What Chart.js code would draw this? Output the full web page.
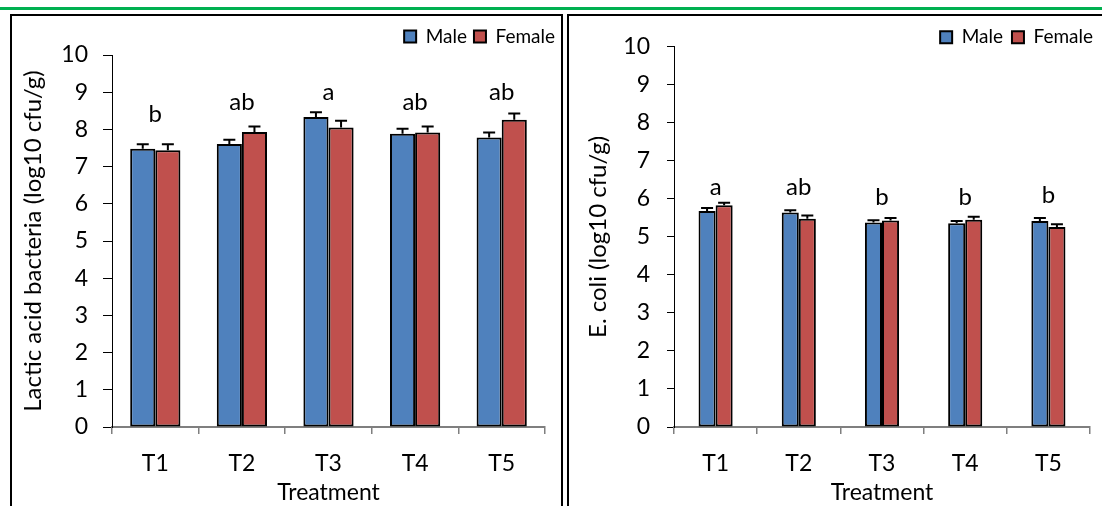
<!DOCTYPE html>
<html>
<head>
<meta charset="utf-8">
<script src="https://cdn.jsdelivr.net/npm/chart.js@4.4.0/dist/chart.umd.min.js"></script>
<style>
  html, body { margin: 0; padding: 0; background: #fff; }
  body { width: 1102px; height: 506px; position: relative; overflow: hidden; font-family: Lato, sans-serif; }
  .topline { position: absolute; left: 0; top: 7px; width: 1102px; height: 3px; background: #00b050; }
  .panel { position: absolute; top: 14px; height: 520px; border: 2px solid #000; box-sizing: border-box; }
  #panel-lab { left: 10px; width: 553px; }
  #panel-ecoli { left: 567px; width: 560px; }
  canvas { position: absolute; top: 16px; }
  #labChart { left: 12px; }
  #ecoliChart { left: 570px; }
</style>
</head>
<body>
<div class="topline"></div>
<div class="panel" id="panel-lab"></div>
<div class="panel" id="panel-ecoli"></div>
<canvas id="labChart" width="550" height="490"></canvas>
<canvas id="ecoliChart" width="532" height="490"></canvas>

<script>
// treatments on the x axis
const treatments = ['T1', 'T2', 'T3', 'T4', 'T5'];
const yTicks = [0, 1, 2, 3, 4, 5, 6, 7, 8, 9, 10];

// Lactic acid bacteria (log10 cfu/g)
const labMale = [7.48, 7.61, 8.33, 7.88, 7.78];
const labFemale = [7.44, 7.93, 8.05, 7.92, 8.26];
const labMaleErr = [0.12, 0.11, 0.13, 0.14, 0.14];
const labFemaleErr = [0.16, 0.15, 0.18, 0.16, 0.17];
const labLetters = ['b', 'ab', 'a', 'ab', 'ab'];
const labLetterLevel = [8.42, 8.74, 9.0, 8.74, 8.99];

// E. coli (log10 cfu/g)
const ecoliMale = [5.68, 5.64, 5.38, 5.36, 5.42];
const ecoliFemale = [5.83, 5.48, 5.43, 5.45, 5.26];
const ecoliMaleErr = [0.08, 0.06, 0.06, 0.06, 0.08];
const ecoliFemaleErr = [0.07, 0.08, 0.07, 0.08, 0.07];
const ecoliLetters = ['a', 'ab', 'b', 'b', 'b'];
const ecoliLetterLevel = [6.3, 6.3, 6.04, 6.04, 6.1];

const FONT = 'Lato';

// draws the +SE whisker on top of every bar
const errorBars = {
  id: 'errorBars',
  afterDatasetsDraw(chart) {
    const ctx = chart.ctx;
    const y = chart.scales.y;
    ctx.save();
    ctx.strokeStyle = '#000';
    ctx.lineWidth = 2;
    chart.data.datasets.forEach((ds, i) => {
      chart.getDatasetMeta(i).data.forEach((bar, j) => {
        const top = y.getPixelForValue(ds.data[j] + ds.err[j]);
        ctx.beginPath();
        ctx.moveTo(bar.x, bar.y);
        ctx.lineTo(bar.x, top);
        ctx.moveTo(bar.x - 6, top);
        ctx.lineTo(bar.x + 6, top);
        ctx.stroke();
      });
    });
    ctx.restore();
  }
};

// significance letters above each treatment group
const groupLetters = {
  id: 'groupLetters',
  afterDatasetsDraw(chart, args, opts) {
    if (!opts.text) return;
    const { ctx, scales: { x, y } } = chart;
    ctx.save();
    ctx.font = '24px ' + FONT;
    ctx.fillStyle = '#000';
    ctx.textAlign = 'center';
    ctx.textBaseline = 'middle';
    opts.text.forEach((t, i) => {
      ctx.fillText(t, x.getPixelForValue(i), y.getPixelForValue(opts.level[i]));
    });
    ctx.restore();
  }
};

function buildChart(id, cfg) {
  const ctx = document.getElementById(id).getContext('2d');
  return new Chart(ctx, {
    type: 'bar',
    data: {
      labels: treatments,
      datasets: [
        {
          label: 'Male',
          data: cfg.male,
          err: cfg.maleErr,
          backgroundColor: '#4f81bd',
          borderColor: '#000',
          borderWidth: 2,
          borderSkipped: false
        },
        {
          label: 'Female',
          data: cfg.female,
          err: cfg.femaleErr,
          backgroundColor: '#c0504d',
          borderColor: '#000',
          borderWidth: 2,
          borderSkipped: false
        }
      ]
    },
    options: {
      responsive: false,
      animation: false,
      devicePixelRatio: 1,
      datasets: { bar: { categoryPercentage: cfg.catPct, barPercentage: 1 } },
      layout: { padding: { top: cfg.padTop, left: 0, right: 0, bottom: 0 } },
      plugins: {
        tooltip: { enabled: false },
        legend: {
          position: 'top',
          align: 'end',
          maxHeight: cfg.legendHeight,
          labels: {
            color: '#000',
            font: { family: FONT, size: 19 },
            boxWidth: 12,
            boxHeight: 12,
            padding: cfg.legendPad
          }
        },
        groupLetters: { text: cfg.letters, level: cfg.letterLevel }
      },
      scales: {
        x: {
          offset: true,
          grid: { display: true, offset: true, drawOnChartArea: false, tickLength: 7, color: '#7f7f7f', lineWidth: 1.5 },
          border: { display: true, color: '#7f7f7f', width: 2 },
          ticks: { color: '#000', font: { family: FONT, size: 23 }, padding: 16, maxRotation: 0, autoSkip: false },
          title: { display: true, text: 'Treatment', color: '#000', font: { family: FONT, size: 23 }, padding: 0 },
          afterFit(s) { s.height = 79; }
        },
        y: {
          min: 0,
          max: 10,
          afterBuildTicks(s) { s.ticks = yTicks.map(v => ({ value: v })); },
          grid: { display: true, drawOnChartArea: false, tickLength: cfg.yTickLen, color: '#000', lineWidth: 1 },
          border: { display: true, color: '#000', width: 1 },
          ticks: { color: '#000', font: { family: FONT, size: 23 }, padding: cfg.yLabelPad },
          title: { display: true, text: cfg.yTitle, color: '#000', font: { family: FONT, size: 24 }, padding: { top: cfg.titlePad, bottom: 0 } },
          afterFit(s) { s.width = cfg.yWidth; }
        },
        // empty spacer on the right so the legend can reach past the plot
        spacer: {
          axis: 'y',
          position: 'right',
          display: true,
          grid: { display: false },
          border: { display: false },
          ticks: { display: false },
          afterFit(s) { s.width = cfg.rightGap; }
        }
      }
    },
    plugins: [errorBars, groupLetters]
  });
}

buildChart('labChart', {
  male: labMale, female: labFemale,
  maleErr: labMaleErr, femaleErr: labFemaleErr,
  letters: labLetters, letterLevel: labLetterLevel,
  yTitle: 'Lactic acid bacteria (log10 cfu/g)',
  catPct: 0.58,
  padTop: 4, legendPad: 7, legendHeight: 35,
  yWidth: 100, yTickLen: 9, yLabelPad: 15, titlePad: 7,
  rightGap: 17
});

buildChart('ecoliChart', {
  male: ecoliMale, female: ecoliFemale,
  maleErr: ecoliMaleErr, femaleErr: ecoliFemaleErr,
  letters: ecoliLetters, letterLevel: ecoliLetterLevel,
  yTitle: 'E. coli (log10 cfu/g)',
  catPct: 0.41,
  padTop: 0, legendPad: 9, legendHeight: 28,
  yWidth: 104, yTickLen: 7, yLabelPad: 17, titlePad: 14,
  rightGap: 12
});
</script>
</body>
</html>
